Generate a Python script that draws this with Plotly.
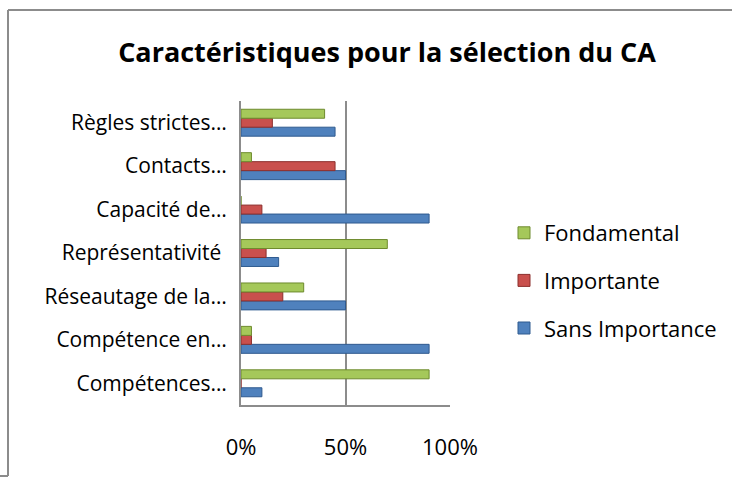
import plotly.graph_objects as go

categories = ["Compétences…", "Compétence en…", "Réseautage de la…", "Représentativité\u00a0",
              "Capacité de…", "Contacts…", "Règles strictes…"]
sans_importance = [0.10, 0.90, 0.50, 0.18, 0.90, 0.50, 0.45]
importante = [0.00, 0.05, 0.20, 0.12, 0.10, 0.45, 0.15]
fondamental = [0.90, 0.05, 0.30, 0.70, 0.00, 0.05, 0.40]
tick_vals = [0, 0.5, 1.0]
tick_text = ["0%", "50%", "100%"]

W, H = 732, 479
L, R, T, B = 241, W - 450, 101, H - 405
pw, ph = W - L - R, H - T - B

def px(x):
    return (x - L) / pw

def py(y):
    return 1 - (y - T) / ph

FONT = "Open Sans"

fig = go.Figure()
series = [
    ("Sans Importance", sans_importance, "#4F81BD", "#2F5A8F", 3),
    ("Importante", importante, "#C9504D", "#8C2F2D", 2),
    ("Fondamental", fondamental, "#A5C85A", "#6E8B2E", 1),
]
for name, vals, col, lc, rank in series:
    fig.add_trace(go.Bar(
        y=categories, x=vals, name=name, orientation="h",
        marker=dict(color=col, line=dict(color=lc, width=1)),
        legendgroup=name, legendrank=rank,
    ))

fig.update_layout(
    width=W, height=H,
    margin=dict(l=L, r=R, t=T, b=B, autoexpand=False),
    paper_bgcolor="white", plot_bgcolor="white",
    barmode="group", bargap=0.38, bargroupgap=0,
    font=dict(family=FONT, size=21, color="black"),
    title=dict(text="<b>Caractéristiques pour la sélection du CA</b>",
               x=387 / W, xanchor="center",
               y=1 - 53 / H, yanchor="middle",
               font=dict(family=FONT, size=27, color="black")),
    showlegend=True,
    legend=dict(x=px(504), xanchor="left", y=py(212), yanchor="top",
                traceorder="grouped", tracegroupgap=16,
                font=dict(family=FONT, size=22, color="black"),
                bgcolor="rgba(0,0,0,0)"),
    xaxis=dict(range=[0, 1], tickvals=tick_vals, ticktext=tick_text,
               showgrid=True, gridcolor="#8c8c8c", gridwidth=1.5,
               showline=True, linecolor="#8c8c8c", linewidth=2,
               zeroline=False, ticks="", ticklabelstandoff=22,
               tickfont=dict(family=FONT, size=22, color="black"),
               fixedrange=True),
    yaxis=dict(categoryorder="array", categoryarray=categories,
               showline=True, linecolor="#8c8c8c", linewidth=2,
               showgrid=False, ticks="", ticklabelstandoff=8,
               tickfont=dict(family=FONT, size=21, color="black"),
               fixedrange=True),
    shapes=[
        dict(type="line", xref="paper", yref="paper", x0=px(8), x1=px(732), y0=py(10), y1=py(10),
             line=dict(color="#8c8c8c", width=2)),
        dict(type="line", xref="paper", yref="paper", x0=px(8), x1=px(8), y0=py(10), y1=py(476),
             line=dict(color="#8c8c8c", width=2)),
        dict(type="line", xref="paper", yref="paper", x0=px(0), x1=px(8), y0=py(476), y1=py(476),
             line=dict(color="#8c8c8c", width=2)),
    ],
)

fig.write_html("out.html", config={"displayModeBar": False},
               post_script="document.body.style.margin='0';document.body.style.overflow='hidden';")
